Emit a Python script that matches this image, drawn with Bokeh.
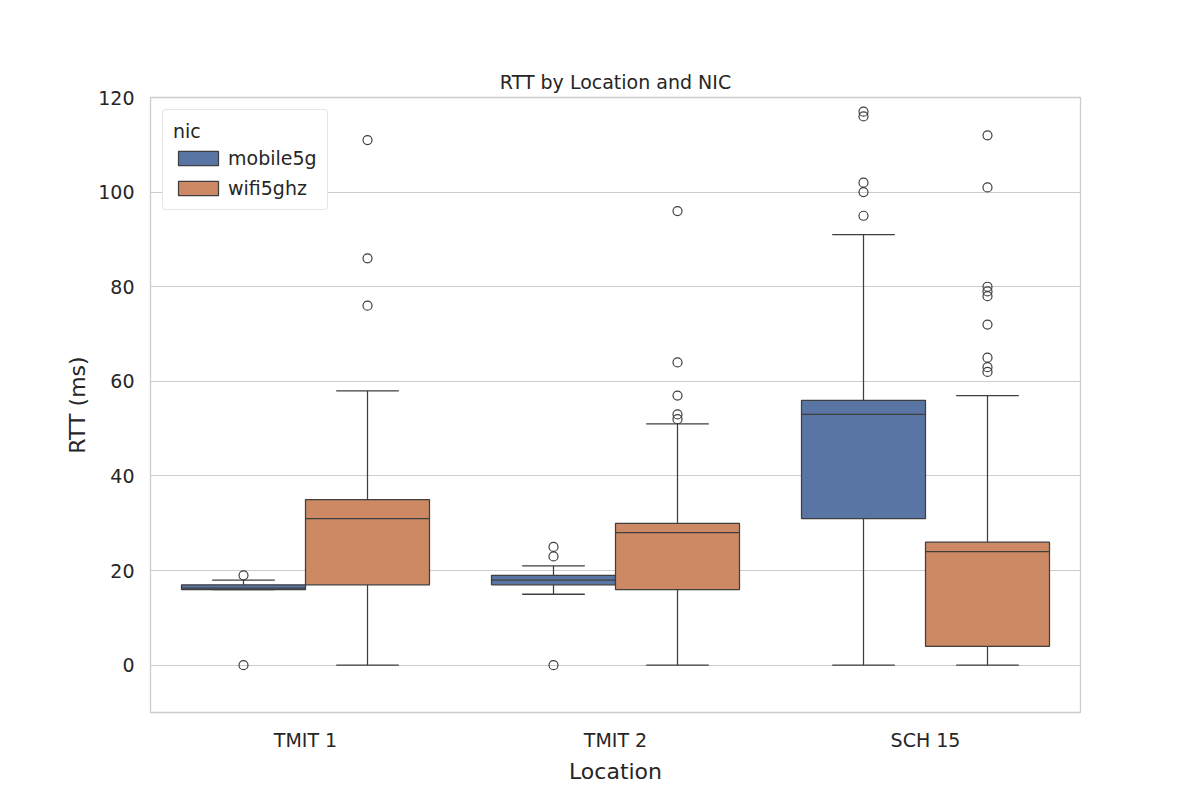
from bokeh.plotting import figure
from bokeh.models import ColumnDataSource, FixedTicker, Legend, LegendItem
from bokeh.embed import file_html
from bokeh.resources import INLINE

locations = ["TMIT 1", "TMIT 2", "SCH 15"]
nics = ["mobile5g", "wifi5ghz"]
colors = ["#5975a4", "#cc8963"]
# per nic: lists per location
q1 = {"mobile5g": [16, 17, 31], "wifi5ghz": [17, 16, 4]}
med = {"mobile5g": [16.3, 18, 53], "wifi5ghz": [31, 28, 24]}
q3 = {"mobile5g": [17, 19, 56], "wifi5ghz": [35, 30, 26]}
wlo = {"mobile5g": [16, 15, 0], "wifi5ghz": [0, 0, 0]}
whi = {"mobile5g": [18, 21, 91], "wifi5ghz": [58, 51, 57]}
outliers = {
    "mobile5g": [[19, 0], [23, 25, 0], [95, 100, 102, 116, 117]],
    "wifi5ghz": [[76, 86, 111], [52, 53, 57, 64, 96], [62, 63, 65, 72, 78, 79, 80, 101, 112]],
}

EDGE = "#3f3f3f"
p = figure(frame_width=930, frame_height=615, x_range=(-0.5, 2.5), y_range=(-10, 120),
           output_backend="svg", toolbar_location=None, min_border_left=150,
           min_border_top=97, min_border_right=112, min_border_bottom=80,
           title="RTT by Location and NIC")
p.title.align = "center"
p.title.text_font = "DejaVu Sans"
p.title.text_font_size = "19px"
p.title.text_font_style = "normal"
p.title.text_color = "#262626"
p.outline_line_color = "#cccccc"
p.outline_line_width = 1.3

items = []
for i, nic in enumerate(nics):
    off = -0.2 if i == 0 else 0.2
    xs = [k + off for k in range(3)]
    src = ColumnDataSource(dict(x=xs, q1=q1[nic], q3=q3[nic], med=med[nic], lo=wlo[nic], hi=whi[nic]))
    p.segment("x", "lo", "x", "q1", source=src, line_color=EDGE, line_width=1.25)
    p.segment("x", "q3", "x", "hi", source=src, line_color=EDGE, line_width=1.25)
    p.rect("x", "lo", width=0.2, height=0.01, source=src, line_color=EDGE, line_width=1.25, fill_alpha=0)
    p.rect("x", "hi", width=0.2, height=0.01, source=src, line_color=EDGE, line_width=1.25, fill_alpha=0)
    r = p.vbar(x="x", bottom="q1", top="q3", width=0.4, source=src, fill_color=colors[i],
               line_color=EDGE, line_width=1.25)
    p.segment(x0=[x - 0.2 for x in xs], x1=[x + 0.2 for x in xs], y0=med[nic], y1=med[nic],
              line_color=EDGE, line_width=1.25)
    ox, oy = [], []
    for k, vals in enumerate(outliers[nic]):
        ox += [xs[k]] * len(vals)
        oy += vals
    p.scatter(ox, oy, size=9, fill_alpha=0, line_color=EDGE, line_width=1.2)
    items.append(LegendItem(label=nic, renderers=[r]))

legend = Legend(items=items, location="top_left", title="nic")
legend.title_text_font = "DejaVu Sans"
legend.title_text_font_size = "19px"
legend.title_text_font_style = "normal"
legend.title_text_color = "#262626"
legend.label_text_font = "DejaVu Sans"
legend.label_text_font_size = "19px"
legend.label_text_color = "#262626"
legend.glyph_width = 50
legend.glyph_height = 18
legend.spacing = 8
legend.padding = 10
legend.margin = 12
legend.border_line_color = "#cccccc"
legend.border_radius = 4
p.add_layout(legend)

p.xaxis.ticker = FixedTicker(ticks=[0, 1, 2])
p.xaxis.major_label_overrides = {0: "TMIT 1", 1: "TMIT 2", 2: "SCH 15"}
p.yaxis.ticker = FixedTicker(ticks=[0, 20, 40, 60, 80, 100, 120])
p.xaxis.axis_label = "Location"
p.yaxis.axis_label = "RTT (ms)"
for ax in (p.xaxis[0], p.yaxis[0]):
    ax.axis_line_color = None
    ax.major_tick_line_color = None
    ax.minor_tick_line_color = None
    ax.major_label_text_font = "DejaVu Sans"
    ax.major_label_text_font_size = "19px"
    ax.major_label_text_color = "#262626"
    ax.axis_label_text_font = "DejaVu Sans"
    ax.axis_label_text_font_size = "22px"
    ax.axis_label_text_font_style = "normal"
    ax.axis_label_text_color = "#262626"
    ax.major_label_standoff = 10
p.xgrid.grid_line_color = None
p.ygrid.grid_line_color = "#cccccc"
p.ygrid.grid_line_width = 1.2

open("out.html", "w").write(file_html(p, INLINE))
